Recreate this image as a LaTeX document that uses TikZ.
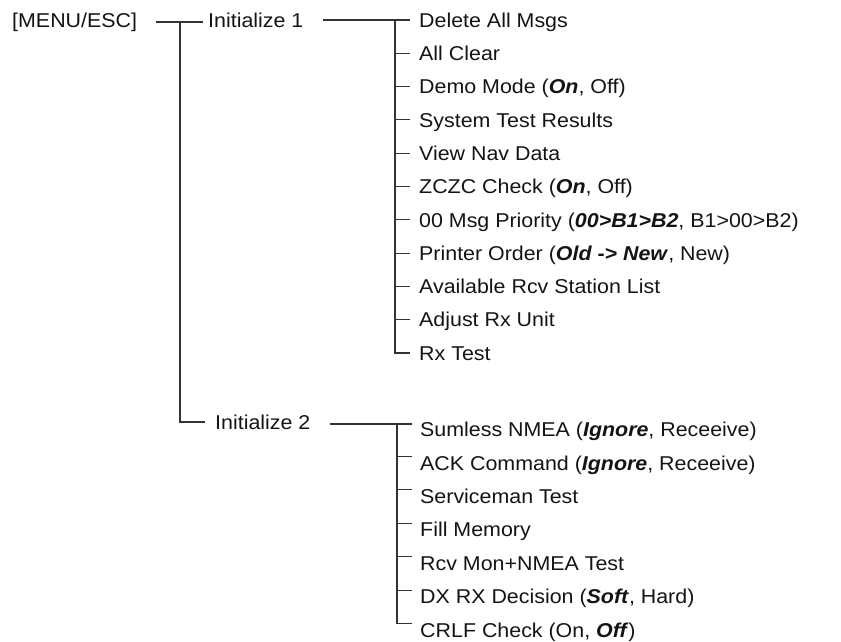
\documentclass[tikz,border=0pt]{standalone}
\usepackage{fontspec}
\setmainfont{Liberation Sans}[FakeStretch=1.07]
\newcommand{\bi}[1]{\textbf{\textit{#1}}}
\begin{document}
\begin{tikzpicture}[x=1pt,y=-1pt,
  lbl/.style={anchor=base west,inner sep=0pt,text=black!92,font=\fontsize{20}{22}\selectfont},
  ln/.style={line width=1.1pt,draw=black!80}]
\useasboundingbox (0,0) rectangle (841,642);
% level 0 and 1
\node[lbl] (root) at (12,28) {[MENU/ESC]};
\node[lbl] (i1) at (208,27.2) {Initialize 1};
\node[lbl] (i2) at (215,429.2) {Initialize 2};
% group 1 items
\foreach [count=\k] \t in {
  {Delete All Msgs},
  {All Clear},
  {Demo Mode (\bi{On}, Off)},
  {System Test Results},
  {View Nav Data},
  {ZCZC Check (\bi{On}, Off)},
  {00 Msg Priority (\bi{00>B1>B2}, B1>00>B2)},
  {Printer Order (\bi{Old -> New}, New)},
  {Available Rcv Station List},
  {Adjust Rx Unit},
  {Rx Test}}
  {\node[lbl] (a\k) at (419,{27.2+33.3*(\k-1)}) {\t};}
% group 2 items
\foreach [count=\k] \t in {
  {Sumless NMEA (\bi{Ignore}, Receeive)},
  {ACK Command (\bi{Ignore}, Receeive)},
  {Serviceman Test},
  {Fill Memory},
  {Rcv Mon+NMEA Test},
  {DX RX Decision (\bi{Soft}, Hard)},
  {CRLF Check (On, \bi{Off})}}
  {\node[lbl] (b\k) at (420,{436.6+33.4*(\k-1)}) {\t};}
% root connectors
\coordinate (r1) at (180,22);
\coordinate (r2) at (180,422);
\draw[ln] ([xshift=19pt]root.east |- r1) -- ([xshift=-5pt]i1.west |- r1);
\draw[ln] (r1) -- (r2) -- ([xshift=-10pt]i2.west |- r2);
% group 1 connectors
\coordinate (g1) at (395,20);
\draw[ln] ([xshift=19pt]i1.east |- g1) -- ([xshift=-9pt]a1.west |- g1);
\draw[ln] (g1) -- ([yshift=7.2pt]a11.base west -| g1) -- ([xshift=-9pt,yshift=7.2pt]a11.base west);
\foreach \k in {2,...,10}
  {\draw[ln] ([yshift=7.2pt]a\k.base west -| g1) -- ([xshift=-9pt,yshift=7.2pt]a\k.base west);}
% group 2 connectors
\coordinate (g2) at (397,424);
\draw[ln] ([xshift=19pt]i2.east |- g2) -- ([xshift=-8pt]b1.west |- g2);
\draw[ln] (g2) -- ([yshift=13.5pt]b7.base west -| g2) -- ([xshift=-8pt,yshift=13.5pt]b7.base west);
\foreach \k in {2,...,6}
  {\draw[ln] ([yshift=13.5pt]b\k.base west -| g2) -- ([xshift=-8pt,yshift=13.5pt]b\k.base west);}
\end{tikzpicture}
\end{document}
